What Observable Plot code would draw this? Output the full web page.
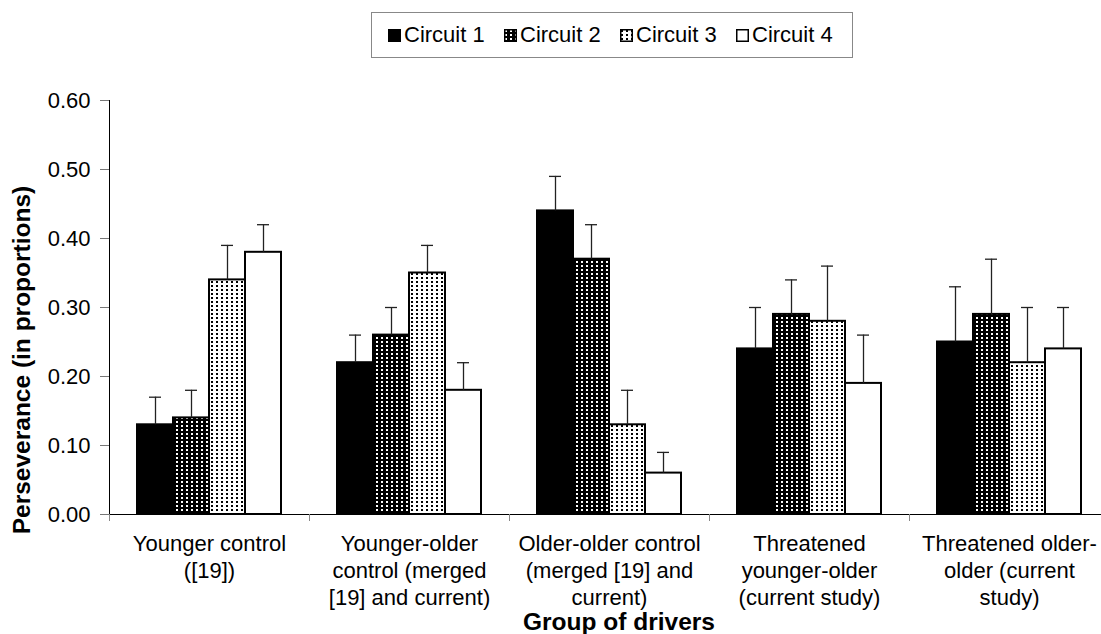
<!DOCTYPE html>
<html>
<head>
<meta charset="utf-8">
<script src="https://cdn.jsdelivr.net/npm/d3@7"></script>
<script src="https://cdn.jsdelivr.net/npm/@observablehq/plot@0.6"></script>
<style>
  body { margin: 0; background: #fff; font-family: "Liberation Sans", Arial, sans-serif; }
  #wrap { position: relative; width: 1101px; height: 634px; overflow: hidden; background: #fff; }
  #legend { position: relative; height: 60px; }
  #legendBox { position: absolute; left: 371px; top: 12px; width: 482px; height: 46px; box-sizing: border-box;
    border: 1px solid #888; display: flex; align-items: center; padding-left: 16px; }
  .item { display: flex; align-items: center; width: 118px; font-size: 22px; color: #000; white-space: nowrap; }
  .item svg { margin-right: 3px; flex: none; }
  #chart svg { display: block; }
  #xtitle { position: absolute; left: 419px; width: 400px; top: 610px; text-align: center; font-weight: bold; font-size: 24.5px; line-height: 23px; }
  #ytitle { position: absolute; left: -178px; top: 348px; width: 400px; height: 24px; text-align: center; font-weight: bold; font-size: 24.5px; line-height: 24px; transform: rotate(-90deg); transform-origin: 50% 50%; white-space: nowrap; }
</style>
</head>
<body>
<svg width="0" height="0" style="position:absolute">
  <defs>
    <pattern id="pat2" patternUnits="userSpaceOnUse" width="5" height="4">
      <rect width="5" height="4" fill="#000"></rect>
      <rect x="1" y="1" width="2" height="2" fill="#fff"></rect>
    </pattern>
    <pattern id="pat3" patternUnits="userSpaceOnUse" width="5" height="4">
      <rect width="5" height="4" fill="#fff"></rect>
      <rect x="1" y="1" width="2" height="2" fill="#000"></rect>
    </pattern>
  </defs>
</svg>
<div id="wrap">
  <div id="legend"><div id="legendBox"></div></div>
  <div id="chart"></div>
  <div id="xtitle"></div>
  <div id="ytitle"></div>
</div>
<script>
// ---- data ----
const groups = [
  "Younger control ([19])",
  "Younger-older control (merged [19] and current)",
  "Older-older control (merged [19] and current)",
  "Threatened younger-older (current study)",
  "Threatened older-older (current study)"
];
const groupTickLabels = [
  "Younger control\n([19])",
  "Younger-older\ncontrol (merged\n[19] and current)",
  "Older-older control\n(merged [19] and\ncurrent)",
  "Threatened\nyounger-older\n(current study)",
  "Threatened older-\nolder (current\nstudy)"
];
const circuits = ["Circuit 1", "Circuit 2", "Circuit 3", "Circuit 4"];
const circuit1 = [0.13, 0.22, 0.44, 0.24, 0.25];
const circuit2 = [0.14, 0.26, 0.37, 0.29, 0.29];
const circuit3 = [0.34, 0.35, 0.13, 0.28, 0.22];
const circuit4 = [0.38, 0.18, 0.06, 0.19, 0.24];
const error1 = [0.04, 0.04, 0.05, 0.06, 0.08];
const error2 = [0.04, 0.04, 0.05, 0.05, 0.08];
const error3 = [0.05, 0.04, 0.05, 0.08, 0.08];
const error4 = [0.04, 0.04, 0.03, 0.07, 0.06];
const yTicks = [0, 0.1, 0.2, 0.3, 0.4, 0.5, 0.6];
const yTitle = "Perseverance (in proportions)";
const xTitle = "Group of drivers";

const fills = { "Circuit 1": "#000", "Circuit 2": "url(#pat2)", "Circuit 3": "url(#pat3)", "Circuit 4": "#fff" };
const means = [circuit1, circuit2, circuit3, circuit4];
const errs = [error1, error2, error3, error4];
const tickLabelOf = new Map(groups.map((g, i) => [g, groupTickLabels[i]]));

const rows = [];
groups.forEach((g, i) => circuits.forEach((c, j) => rows.push({ group: g, circuit: c, value: means[j][i], err: errs[j][i] })));

// ---- legend ----
const box = document.getElementById("legendBox");
circuits.forEach(c => {
  const it = document.createElement("div");
  it.className = "item";
  it.innerHTML = `<svg width="13" height="13"><rect x="0.75" y="0.75" width="11.5" height="11.5" fill="${fills[c]}" stroke="#000" stroke-width="1.5"></rect></svg><span>${c}</span>`;
  box.appendChild(it);
});
document.getElementById("xtitle").textContent = xTitle;
document.getElementById("ytitle").textContent = yTitle;

// ---- chart ----
const facetHalf = (1101 - 109 + 8) / groups.length / 2;
const plot = Plot.plot({
  width: 1101,
  height: 574,
  marginLeft: 109,
  marginRight: -8,
  marginTop: 40,
  marginBottom: 120,
  fx: { domain: groups, padding: 0, axis: null },
  x: { domain: circuits, paddingInner: 0, paddingOuter: 0.74, axis: null },
  y: { domain: [0, 0.6], axis: null },
  style: { fontFamily: "'Liberation Sans', Arial, sans-serif", background: "transparent", color: "black" },
  marks: [
    Plot.barY(rows, { fx: "group", x: "circuit", y: "value", fill: d => fills[d.circuit], stroke: "#000", strokeWidth: 2 }),
    Plot.ruleX(rows, { fx: "group", x: "circuit", y1: "value", y2: d => d.value + d.err, stroke: "#222", strokeWidth: 1.3 }),
    Plot.tickY(rows, { fx: "group", x: "circuit", y: d => d.value + d.err, inset: 12, stroke: "#222", strokeWidth: 1.3 }),
    Plot.ruleY([0], { stroke: "#000", strokeWidth: 1 }),
    Plot.frame({ anchor: "left", facetAnchor: "left", stroke: "#000", strokeWidth: 1 }),
    Plot.axisY({ ticks: yTicks, tickFormat: d3.format(".2f"), tickSize: 9, tickPadding: 10, fontSize: 22, stroke: "#777", fill: "#000", label: null }),
    Plot.axisFx({ anchor: "bottom", tickSize: 7, tickFormat: () => "", dx: -facetHalf, stroke: "#888", label: null }),
    Plot.axisFx({ anchor: "bottom", tickSize: 0, tickPadding: 18, fontSize: 22, lineHeight: 1.21, tickFormat: g => tickLabelOf.get(g), fill: "#000", label: null })
  ]
});
document.getElementById("chart").appendChild(plot);
</script>
</body>
</html>
